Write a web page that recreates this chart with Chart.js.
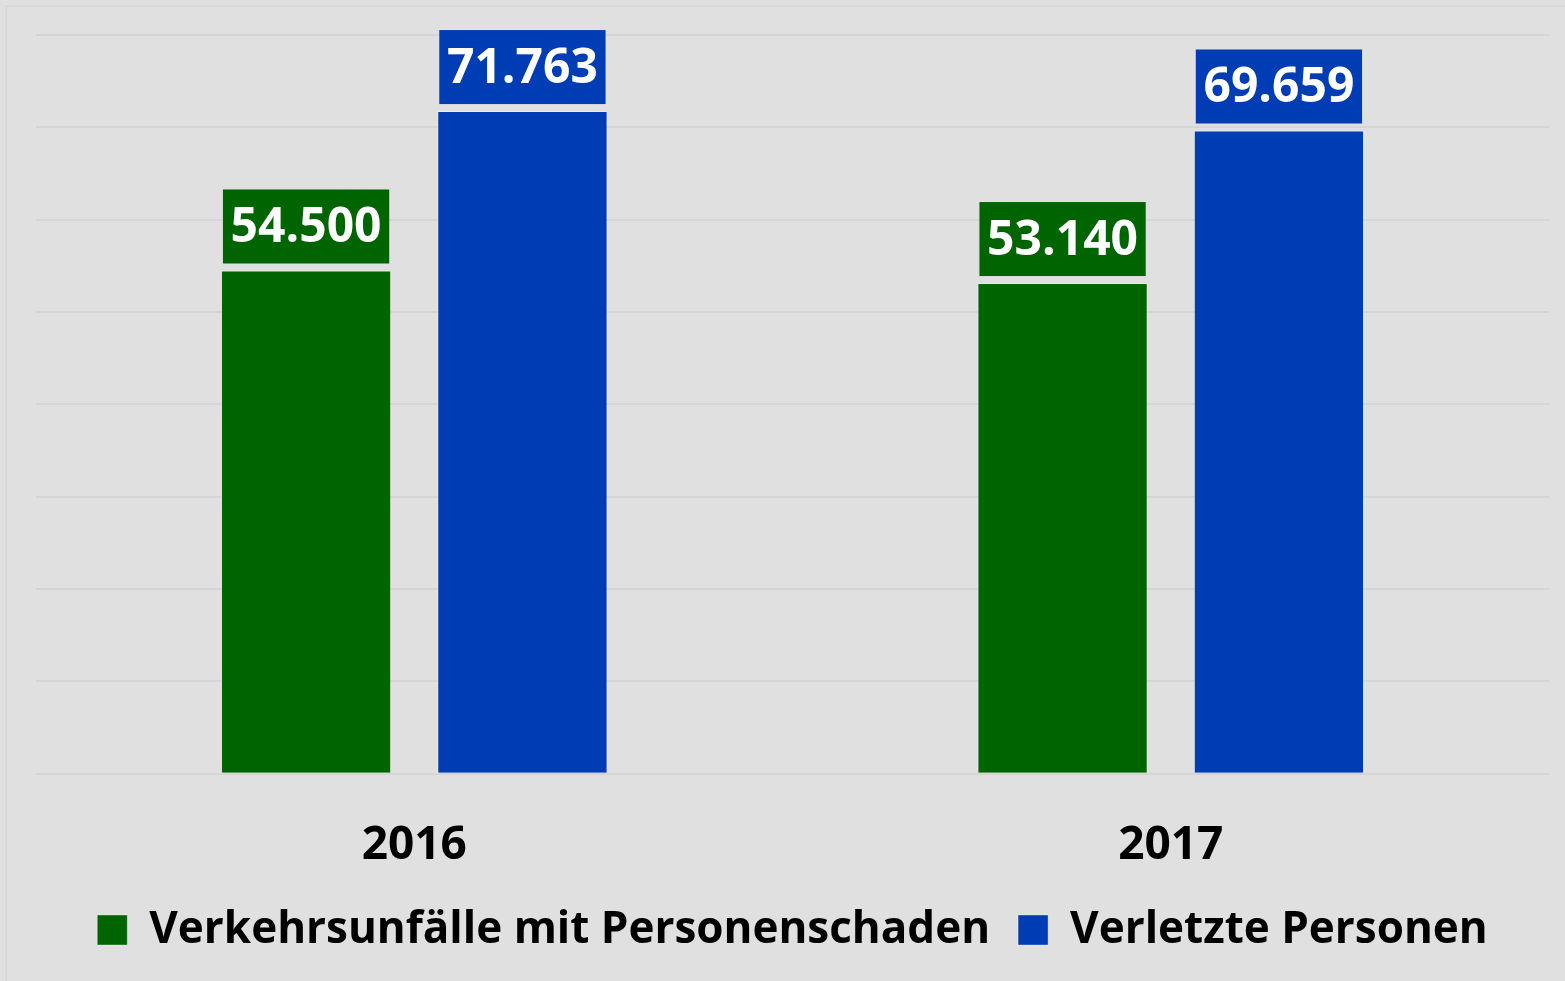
<!DOCTYPE html>
<html lang="de">
<head>
    <meta charset="UTF-8">
    <title>Verkehrsunfälle 2016 / 2017</title>
    <script src="https://cdn.jsdelivr.net/npm/chart.js"></script>
    <style>
        html, body { margin: 0; padding: 0; background: #e0e0e0; overflow: hidden; }
        .frame {
            position: absolute; left: 5px; top: 5px;
            width: 1600px; height: 1000px;
            border-left: 2px solid #d8d8d8; border-top: 2px solid #d8d8d8;
        }
        .wrap { position: absolute; left: 0; top: 0; width: 1565px; height: 981px; }
    </style>
</head>
<body>
    <div class="frame"></div>
    <div class="wrap">
        <canvas id="myChart" width="1565" height="981"></canvas>
    </div>

    <script>
        // data
        var years = ['2016', '2017'];
        var unfaelle = [54500, 53140];
        var verletzte = [71763, 69659];
        var seriesNames = ['Verkehrsunfälle mit Personenschaden', 'Verletzte Personen'];

        var green = '#006400';
        var blue = '#003cb4';
        var fontFamily = "'Open Sans', 'Noto Sans', sans-serif";

        function formatDe(n) {
            return String(n).replace(/\B(?=(\d{3})+(?!\d))/g, '.');
        }

        // value boxes above the bars
        var valueBoxes = {
            id: 'valueBoxes',
            afterDatasetsDraw: function (chart) {
                var ctx = chart.ctx;
                ctx.save();
                ctx.font = 'bold 48px ' + fontFamily;
                ctx.textAlign = 'center';
                ctx.textBaseline = 'middle';
                chart.data.datasets.forEach(function (ds, di) {
                    var meta = chart.getDatasetMeta(di);
                    meta.data.forEach(function (bar, i) {
                        var w = bar.width - 4;
                        var h = 74;
                        var top = bar.y - 7 - h;
                        ctx.fillStyle = ds.backgroundColor;
                        ctx.fillRect(bar.x - w / 2, top, w, h);
                        ctx.fillStyle = '#ffffff';
                        ctx.fillText(formatDe(ds.data[i]), bar.x, top + h / 2 + 2);
                    });
                });
                ctx.restore();
            }
        };

        var ctx = document.getElementById('myChart').getContext('2d');
        new Chart(ctx, {
            type: 'bar',
            data: {
                labels: years,
                datasets: [
                    {
                        label: seriesNames[0],
                        data: unfaelle,
                        backgroundColor: green,
                        borderColor: 'rgba(255,255,255,0.35)',
                        borderWidth: 1
                    },
                    {
                        label: seriesNames[1],
                        data: verletzte,
                        backgroundColor: blue,
                        borderColor: 'rgba(255,255,255,0.35)',
                        borderWidth: 1
                    }
                ]
            },
            options: {
                responsive: false,
                animation: false,
                categoryPercentage: 0.572,
                barPercentage: 0.787,
                layout: {
                    padding: { left: 36, right: 16, top: 35, bottom: 19 }
                },
                scales: {
                    x: {
                        grid: { display: false, drawTicks: false },
                        border: { display: false },
                        afterFit: function (scale) { scale.height = scale.height - 37; },
                        ticks: {
                            color: '#000000',
                            font: { family: fontFamily, size: 46, weight: 'bold' },
                            padding: 44
                        }
                    },
                    y: {
                        min: 0,
                        max: 80000,
                        afterFit: function (scale) { scale.width = 0; },
                        ticks: { display: false, stepSize: 10000 },
                        grid: { color: '#d5d5d5', lineWidth: 2, drawTicks: false },
                        border: { display: false }
                    }
                },
                plugins: {
                    legend: {
                        position: 'bottom',
                        labels: {
                            color: '#000000',
                            font: { family: fontFamily, size: 44, weight: 'bold' },
                            boxWidth: 30,
                            boxHeight: 30,
                            padding: 28
                        }
                    },
                    tooltip: { enabled: false }
                }
            },
            plugins: [valueBoxes]
        });
    </script>
</body>
</html>
